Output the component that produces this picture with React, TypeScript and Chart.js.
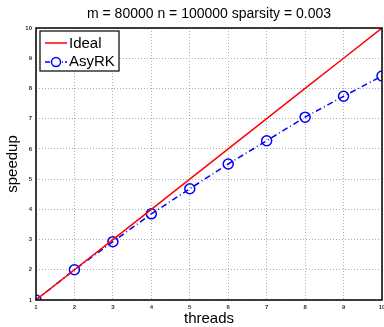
import React, { useEffect, useRef } from "react";
import { Chart, registerables } from "chart.js";

Chart.register(...registerables);

const threads = [1, 2, 3, 4, 5, 6, 7, 8, 9, 10];
const ideal = [1, 2, 3, 4, 5, 6, 7, 8, 9, 10];
const asyrk = [1.0, 2.0, 2.93, 3.85, 4.68, 5.5, 6.27, 7.05, 7.74, 8.41];
const xTicks = [1, 2, 3, 4, 5, 6, 7, 8, 9, 10];
const yTicks = [1, 2, 3, 4, 5, 6, 7, 8, 9, 10];
const titleText = "m = 80000 n = 100000 sparsity = 0.003";
const xTitle = "threads";
const yTitle = "speedup";
const legendLabels = ["Ideal", "AsyRK"];

const FONT = "'Liberation Sans', Arial, Helvetica, sans-serif";

const decorPlugin = {
  id: "decor",
  afterDatasetsDraw(chart: any) {
    const { ctx, chartArea: a, scales } = chart;
    ctx.save();
    // frame
    ctx.strokeStyle = "#000";
    ctx.lineWidth = 1.5;
    ctx.strokeRect(a.left, a.top, a.right - a.left, a.bottom - a.top);
    // tick labels
    ctx.fillStyle = "#333";
    ctx.font = `bold 6px ${FONT}`;
    ctx.textAlign = "center";
    ctx.textBaseline = "middle";
    xTicks.forEach((t) => ctx.fillText(String(t), scales.x.getPixelForValue(t), a.bottom + 7));
    ctx.textAlign = "right";
    yTicks.forEach((t) => ctx.fillText(String(t), a.left - 4, scales.y.getPixelForValue(t)));
    // title
    ctx.fillStyle = "#000";
    ctx.font = `14px ${FONT}`;
    ctx.textAlign = "center";
    const cx = (a.left + a.right) / 2;
    ctx.fillText(titleText, cx, 14);
    ctx.font = `15px ${FONT}`;
    ctx.fillText(xTitle, cx, 319);
    ctx.save();
    ctx.translate(13, (a.top + a.bottom) / 2);
    ctx.rotate(-Math.PI / 2);
    ctx.fillText(yTitle, 0, 0);
    ctx.restore();
    // legend
    const lx = 40, ly = 31, lw = 79, lh = 40;
    ctx.fillStyle = "#fff";
    ctx.fillRect(lx, ly, lw, lh);
    ctx.strokeStyle = "#000";
    ctx.lineWidth = 1.2;
    ctx.strokeRect(lx, ly, lw, lh);
    // Ideal
    ctx.strokeStyle = "#ff0000";
    ctx.lineWidth = 1.5;
    ctx.beginPath();
    ctx.moveTo(45, 43);
    ctx.lineTo(67, 43);
    ctx.stroke();
    // AsyRK
    ctx.strokeStyle = "#0000ff";
    ctx.setLineDash([5, 2, 1, 2]);
    ctx.beginPath();
    ctx.moveTo(45, 62);
    ctx.lineTo(67, 62);
    ctx.stroke();
    ctx.setLineDash([]);
    ctx.beginPath();
    ctx.arc(56, 62, 4.5, 0, Math.PI * 2);
    ctx.fillStyle = "#fff";
    ctx.fill();
    ctx.stroke();
    ctx.fillStyle = "#000";
    ctx.font = `15px ${FONT}`;
    ctx.textAlign = "left";
    ctx.fillText(legendLabels[0], 69, 44);
    ctx.fillText(legendLabels[1], 69, 62);
    ctx.restore();
  },
};

export default function App() {
  const ref = useRef<HTMLCanvasElement>(null);
  useEffect(() => {
    document.body.style.margin = "0";
    const chart = new Chart(ref.current!, {
      type: "line",
      data: {
        datasets: [
          {
            label: legendLabels[0],
            data: threads.map((t, i) => ({ x: t, y: ideal[i] })),
            borderColor: "#ff0000",
            borderWidth: 1.5,
            pointRadius: 0,
            fill: false,
          },
          {
            label: legendLabels[1],
            data: threads.map((t, i) => ({ x: t, y: asyrk[i] })),
            borderColor: "#0000ff",
            borderWidth: 1.5,
            borderDash: [6, 3, 1, 3],
            pointRadius: 5,
            pointBorderWidth: 1.5,
            pointBorderColor: "#0000ff",
            pointBackgroundColor: "rgba(0,0,0,0)",
            fill: false,
          },
        ],
      },
      options: {
        animation: false,
        responsive: false,
        maintainAspectRatio: false,
        layout: { autoPadding: false, padding: { top: 28, right: 2, left: 0, bottom: 0 } },
        plugins: { legend: { display: false }, title: { display: false }, tooltip: { enabled: false } },
        scales: {
          x: {
            type: "linear",
            min: 1,
            max: 10,
            afterFit: (s: any) => { s.height = 27; },
            ticks: { stepSize: 1, display: false },
            grid: { color: "#999", lineWidth: 0.8, drawTicks: false },
            border: { display: false, dash: [1, 2] },
          },
          y: {
            min: 1,
            max: 10,
            afterFit: (s: any) => { s.width = 36; },
            ticks: { stepSize: 1, display: false },
            grid: { color: "#999", lineWidth: 0.8, drawTicks: false },
            border: { display: false, dash: [1, 2] },
          },
        },
      },
      plugins: [decorPlugin],
    });
    return () => chart.destroy();
  }, []);
  return <canvas ref={ref} width={384} height={327} style={{ display: "block" }} />;
}
